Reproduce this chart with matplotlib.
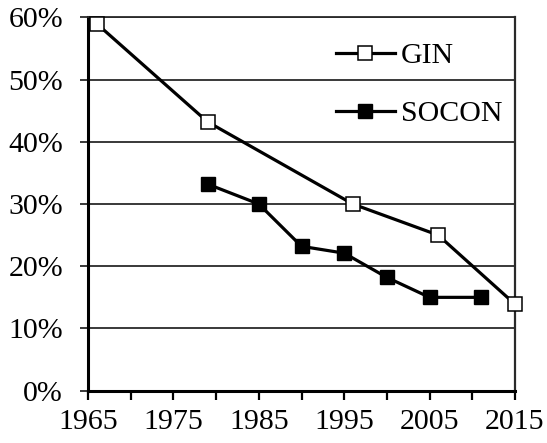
import matplotlib
matplotlib.use("Agg")
import matplotlib.pyplot as plt
from matplotlib.ticker import FuncFormatter, MultipleLocator

gin_years = [1966, 1979, 1996, 2006, 2015]
gin_values = [59.0, 43.2, 30.0, 25.0, 13.9]
socon_years = [1979, 1985, 1990, 1995, 2000, 2005, 2011]
socon_values = [33.2, 30.0, 23.2, 22.1, 18.2, 15.0, 15.0]
x_tick_years = [1965, 1970, 1975, 1980, 1985, 1990, 1995, 2000, 2005, 2010, 2015]
x_tick_labels = ["1965", "", "1975", "", "1985", "", "1995", "", "2005", "", "2015"]

plt.rcParams['font.family'] = ['Liberation Serif', 'DejaVu Serif']

W, H = 547, 443
fig = plt.figure(figsize=(W / 100, H / 100), dpi=100)
left, right, top, bottom = 88, 515, 17.3, 390.7
ax = fig.add_axes([left / W, 1 - bottom / H, (right - left) / W, (bottom - top) / H])

gridc = "#2a2a2a"
fs = 21.5
ax.set_xlim(1965, 2015)
ax.set_ylim(0, 60)
ax.yaxis.set_major_locator(MultipleLocator(10))
ax.grid(axis='y', color=gridc, linewidth=1.3, zorder=1)
ax.set_axisbelow(True)

ax.plot(gin_years, gin_values, color='black', linewidth=2.3, marker='s', markersize=10,
        markerfacecolor='white', markeredgecolor='black', markeredgewidth=1.1,
        label='GIN', zorder=3, clip_on=False)
ax.plot(socon_years, socon_values, color='black', linewidth=2.3, marker='s', markersize=10.5,
        markerfacecolor='black', markeredgecolor='black',
        label='SOCON', zorder=3, clip_on=False)

ax.set_xticks(x_tick_years)
ax.set_xticklabels(x_tick_labels)
ax.yaxis.set_major_formatter(FuncFormatter(lambda v, p: f"{int(round(v))}%"))

ax.tick_params(axis='x', direction='out', length=6.5, width=1.6, color='black',
               labelsize=fs, pad=7)
ax.tick_params(axis='y', direction='out', length=6, width=1.3, color=gridc,
               labelsize=fs, pad=12)

for s in ['left', 'bottom']:
    ax.spines[s].set_linewidth(2.2)
    ax.spines[s].set_color('black')
ax.spines['right'].set_linewidth(1.6)
ax.spines['right'].set_color(gridc)
ax.spines['top'].set_linewidth(1.3)
ax.spines['top'].set_color(gridc)

leg = ax.legend(loc='upper right', bbox_to_anchor=(0.998, 0.965), frameon=False, fontsize=fs,
                handlelength=2.0, handletextpad=0.18, labelspacing=1.05, borderaxespad=0.0)

fig.savefig("out.png", dpi=100)
